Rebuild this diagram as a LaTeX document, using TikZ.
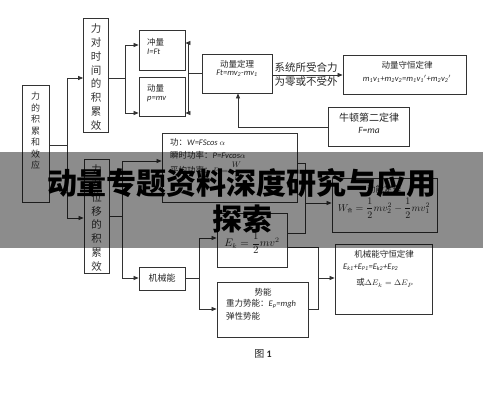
\documentclass[tikz,border=0pt]{standalone}
\usepackage{amsmath}
\usepackage{fontspec}
\setmainfont{Carlito}
\newfontfamily\cjk{Noto Sans CJK SC}
\usetikzlibrary{arrows.meta}
\definecolor{lc}{HTML}{333333}
\begin{document}
\begin{tikzpicture}[x=1pt,y=-1pt,
  box/.style={draw=lc,line width=0.8pt,inner sep=0pt},
  wire/.style={draw=lc,line width=0.7pt},
  arr/.style={wire,-{Triangle[length=5pt,width=4pt]}},
  txt/.style={inner sep=0pt,text=black!85,font=\cjk\fontsize{8.5}{10}\selectfont},
  vert/.style={inner sep=0pt,align=center,text=black!80},
  it/.style={font=\itshape\fontsize{8.5}{10}\selectfont}]
\useasboundingbox (0,0) rectangle (483,400);
\fill[white] (0,0) rectangle (483,400);
% boxes
\node[box,minimum width=27,minimum height=117] (L) at (35.5,143.5) {};
\node[box,minimum width=25,minimum height=114] (A) at (96,75) {};
\node[box,minimum width=25,minimum height=114] (B) at (96.5,216) {};
\node[box,minimum width=46,minimum height=40] (IMP) at (162,50) {};
\node[box,minimum width=46,minimum height=39] (MOM) at (162,96.5) {};
\node[box,minimum width=70,minimum height=39] (THM) at (237,73.5) {};
\node[box,minimum width=123,minimum height=39] (CONS) at (404.5,74.5) {};
\node[box,minimum width=81,minimum height=39] (NEWT) at (368.5,126.5) {};
\node[box,minimum width=135,minimum height=69] (WORK) at (229.5,167.5) {};
\node[box,minimum width=105,minimum height=54] (KET) at (384.5,205) {};
\node[box,minimum width=46,minimum height=23] (ME) at (162,278.5) {};
\node[box,minimum width=70,minimum height=54] (EK) at (252,240) {};
\node[box,minimum width=91,minimum height=55] (PE) at (262.5,309.5) {};
\node[box,minimum width=97,minimum height=70] (MEC) at (383.5,279) {};
% texts
\node[vert,font=\cjk\fontsize{9}{11.5}\selectfont] (tL) at (35.5,131) {力\\的\\积\\累\\和\\效\\应};
\node[vert,font=\cjk\fontsize{10.5}{13.9}\selectfont] (tA) at (96,77) {力\\对\\时\\间\\的\\积\\累\\效};
\node[vert,font=\cjk\fontsize{10.5}{13.9}\selectfont] (tB) at (96.5,218) {力\\对\\位\\移\\的\\积\\累\\效};
\node[txt,anchor=west] (t1) at (147,42) {冲量};
\node[txt,anchor=west,it] (t2) at (147,52) {I=Ft};
\node[txt,anchor=west] (t3) at (147,88) {动量};
\node[txt,anchor=west,it] (t4) at (147,99) {p=mv};
\node[txt] (t5) at (237,64) {动量定理};
\node[txt,it] (t6) at (237,73) {Ft=mv\textsubscript{2}-mv\textsubscript{1}};
\node[txt] (t7) at (407,65) {动量守恒定律};
\node[txt,it] (t8) at (407,79) {m\textsubscript{1}v\textsubscript{1}+m\textsubscript{2}v\textsubscript{2}=m\textsubscript{1}v\textsubscript{1}$'$+m\textsubscript{2}v\textsubscript{2}$'$};
\node[txt,font=\cjk\fontsize{10}{12}\selectfont] (t9) at (369,118) {牛顿第二定律};
\node[txt,it,font=\itshape\fontsize{9.5}{11}\selectfont] (t10) at (369,130) {F=ma};
\node[txt,anchor=west] (t11) at (170,142) {功：{\itshape\fontspec{Carlito} W=FScos $\alpha$}};
\node[txt,anchor=west] (t12) at (170,155) {瞬时功率：{\itshape\fontspec{Carlito} P=Fvcos$\alpha$}};
\node[txt,anchor=west] (t13) at (170,171) {平均功率：$P=\dfrac{W}{t}$};
\node[txt] (t14) at (384,189) {动能定理};
\node[txt,font=\fontsize{10}{12}\selectfont] (t15) at (384,208) {$W_{\hbox{\cjk\fontsize{5}{6}\selectfont 合}}=\dfrac{1}{2}mv_2^2-\dfrac{1}{2}mv_1^2$};
\node[txt,font=\fontsize{10.5}{12}\selectfont] (t16) at (252,243) {$E_k=\dfrac{1}{2}mv^2$};
\node[txt,font=\cjk\fontsize{9}{11}\selectfont] (t17) at (162,278.5) {机械能};
\node[txt] (t18) at (263,292) {势能};
\node[txt,anchor=west] (t19) at (226,304) {重力势能：{\itshape\fontspec{Carlito} E\textsubscript{p}=mgh}};
\node[txt,anchor=west] (t20) at (226,316) {弹性势能};
\node[txt] (t21) at (384,254) {机械能守恒定律};
\node[txt,anchor=west,font=\itshape\fontsize{8.5}{10}\selectfont] (t22) at (343,267) {E\textsubscript{k1}+E\textsubscript{P1}=E\textsubscript{k2}+E\textsubscript{P2}};
\node[txt] (t23) at (385,283) {或$\Delta E_k=\Delta E_P$};
\node[txt,font=\cjk\fontsize{10.5}{12}\selectfont,align=left] (lab) at (306,75) {系统所受合力\\[2pt]为零或不受外};
\node[txt,font=\cjk\fontsize{10}{12}\selectfont] (cap) at (263,354) {图 {\fontspec{Carlito}\bfseries 1}};
% junction coordinates
\coordinate (j1) at (67,145);
\coordinate (j1a) at (67,78);
\coordinate (j1b) at (67,218);
\coordinate (j2) at (125,78);
\coordinate (j2a) at (125,45);
\coordinate (j2b) at (125,113);
\coordinate (j3) at (188,73);
\coordinate (j3a) at (188,43);
\coordinate (j3b) at (188,113);
\coordinate (j4) at (238,127);
\coordinate (j5) at (122,216);
\coordinate (j5a) at (122,161);
\coordinate (j5b) at (122,278);
\coordinate (j6a) at (305,163);
\coordinate (j6b) at (305,233);
\coordinate (j6) at (305,203);
\coordinate (j7) at (199,278);
\coordinate (j7a) at (199,238);
\coordinate (j7b) at (199,309);
\coordinate (j8a) at (318,247);
\coordinate (j8b) at (318,309);
\coordinate (j8) at (318,278);
% connectors
\draw[wire] (L.east |- j1) -- (j1);
\draw[wire] (j1a) -- (j1b);
\draw[arr] (j1a) -- (A.west |- j1a);
\draw[arr] (j1b) -- (B.west |- j1b);
\draw[wire] (A.east |- j2) -- (j2);
\draw[wire] (j2a) -- (j2b);
\draw[arr] (j2a) -- (IMP.west |- j2a);
\draw[arr] (j2b) -- (MOM.west |- j2b);
\draw[wire] (j3a) -- (j3b);
\draw[arr] (j3a) -- (IMP.east |- j3a);
\draw[arr] (j3b) -- (MOM.east |- j3b);
\draw[wire] (j3) -- (THM.west |- j3);
\draw[arr] (THM.east |- 0,75) -- (CONS.west |- 0,75);
\draw[wire] (NEWT.west |- j4) -- (j4);
\draw[arr] (j4) -- (THM.south -| j4);
\draw[wire] (B.east |- j5) -- (j5);
\draw[wire] (j5a) -- (j5b);
\draw[arr] (j5a) -- (WORK.west |- j5a);
\draw[arr] (j5b) -- (ME.west |- j5b);
\draw[wire] (WORK.east |- j6a) -- (j6a) -- (j6b) -- (EK.east |- j6b);
\draw[arr] (j6) -- (KET.west |- j6);
\draw[wire] (ME.east |- j7) -- (j7);
\draw[wire] (j7a) -- (j7b);
\draw[arr] (j7a) -- (EK.west |- j7a);
\draw[arr] (j7b) -- (PE.west |- j7b);
\draw[wire] (EK.east |- j8a) -- (j8a) -- (j8b) -- (PE.east |- j8b);
\draw[arr] (j8) -- (MEC.west |- j8);
% banner
\fill[black,opacity=0.45] (0,152) rectangle (483,248);
\node[inner sep=0pt,font=\cjk\bfseries\fontsize{30}{36}\selectfont,text=black] (ban1) at (242,183) {动量专题资料深度研究与应用};
\node[inner sep=0pt,font=\cjk\bfseries\fontsize{30}{36}\selectfont,text=black] (ban2) at (242,219) {探索};
\end{tikzpicture}
\end{document}
